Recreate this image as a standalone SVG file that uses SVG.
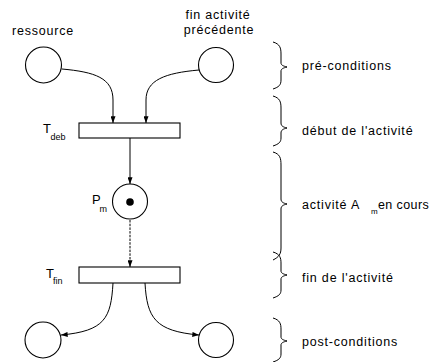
<svg xmlns="http://www.w3.org/2000/svg" width="432" height="362" viewBox="0 0 432 362">
<defs>
<marker id="ah" viewBox="0 0 8 6" refX="8" refY="3" markerWidth="7" markerHeight="5" markerUnits="userSpaceOnUse" orient="auto">
<path d="M0,0 L8,3 L0,6 Z" fill="#000"/>
</marker>
<style>
text{font-family:"Liberation Sans",Arial,sans-serif;fill:#000}
.t{font-size:12.5px;letter-spacing:0.8px}
.big{font-size:13px}
.sub{font-size:9px}
.place{fill:#fff;stroke:#000;stroke-width:1.1}
.trans{fill:#fff;stroke:#000;stroke-width:1.1}
.arc{fill:none;stroke:#000;stroke-width:1;marker-end:url(#ah)}
.brace{fill:none;stroke:#000;stroke-width:1}
</style>
</defs>
<rect width="432" height="362" fill="#fff"/>

<g id="connectors">
<path class="arc" d="M62,69 C95,72 113,78 113,100 L113,123"/>
<path class="arc" d="M199,70 C165,73 146,80 146,100 L146,123"/>
<path class="arc" d="M130,138 L130,184"/>
<path class="arc" d="M130,220 L130,267" stroke-dasharray="2.5,1.2"/>
<path class="arc" d="M113,283 C111,318 105,331 61,335"/>
<path class="arc" d="M145,283 C147,318 155,331 199,335"/>
</g>

<g id="p-ressource">
<circle class="place" cx="43.5" cy="65" r="18"/>
<text class="t" x="12" y="35">ressource</text>
</g>
<g id="p-fin-activite">
<circle class="place" cx="216" cy="65" r="17.5"/>
<text class="t" x="218" y="19" text-anchor="middle">fin activité</text>
<text class="t" x="219" y="34" text-anchor="middle">précédente</text>
</g>
<g id="t-deb">
<rect class="trans" x="79" y="123" width="101" height="15"/>
<text class="big" x="43" y="133">T</text>
<text class="sub" x="50.5" y="140">deb</text>
</g>
<g id="p-m">
<circle class="place" cx="130" cy="201.5" r="17.5"/>
<circle cx="130" cy="202" r="3.8" fill="#000"/>
<text class="big" x="92" y="204">P</text>
<text class="sub" x="99.5" y="212">m</text>
</g>
<g id="t-fin">
<rect class="trans" x="79" y="267" width="101" height="16"/>
<text class="big" x="46" y="278">T</text>
<text class="sub" x="53" y="284">fin</text>
</g>
<g id="p-out1">
<circle class="place" cx="43" cy="340" r="18"/>
</g>
<g id="p-out2">
<circle class="place" cx="216" cy="340" r="17.5"/>
</g>

<g id="legend-pre">
<path class="brace" d="M273,42 C280,44 281,48 281,54 L281,63 C281,65 283,66 287,67 C283,68 281,69 281,71 L281,80 C281,85 279,87 273,89"/>
<text class="t" x="302" y="70">pré-conditions</text>
</g>
<g id="legend-debut">
<path class="brace" d="M273,96 C280,98 281,102 281,108 L281,123 C281,126 283,127 287,128 C283,129 281,130 281,133 L281,138 C281,142 279,144 273,146"/>
<text class="t" x="302" y="135">début de l'activité</text>
</g>
<g id="legend-activite">
<path class="brace" d="M273,152 C280,154 281,158 281,165 L281,199 C281,202 283,203 287,204 C283,205 281,206 281,209 L281,248 C281,254 279,257 273,260"/>
<text class="t" x="302" y="209">activité A</text>
<text style="font-size:8px" x="371" y="214">m</text>
<text class="t" x="378" y="209" style="letter-spacing:0.4px">en cours</text>
</g>
<g id="legend-fin">
<path class="brace" d="M273,252 C280,254 281,258 281,263 L281,271 C281,273 283,274 287,275 C283,276 281,277 281,279 L281,290 C281,294 279,296 273,298"/>
<text class="t" x="302" y="282">fin de l'activité</text>
</g>
<g id="legend-post">
<path class="brace" d="M273,318 C280,320 281,324 281,329 L281,337 C281,339 283,340 287,341 C283,342 281,343 281,345 L281,354 C281,358 279,360 273,362"/>
<text class="t" x="302" y="346">post-conditions</text>
</g>
</svg>
